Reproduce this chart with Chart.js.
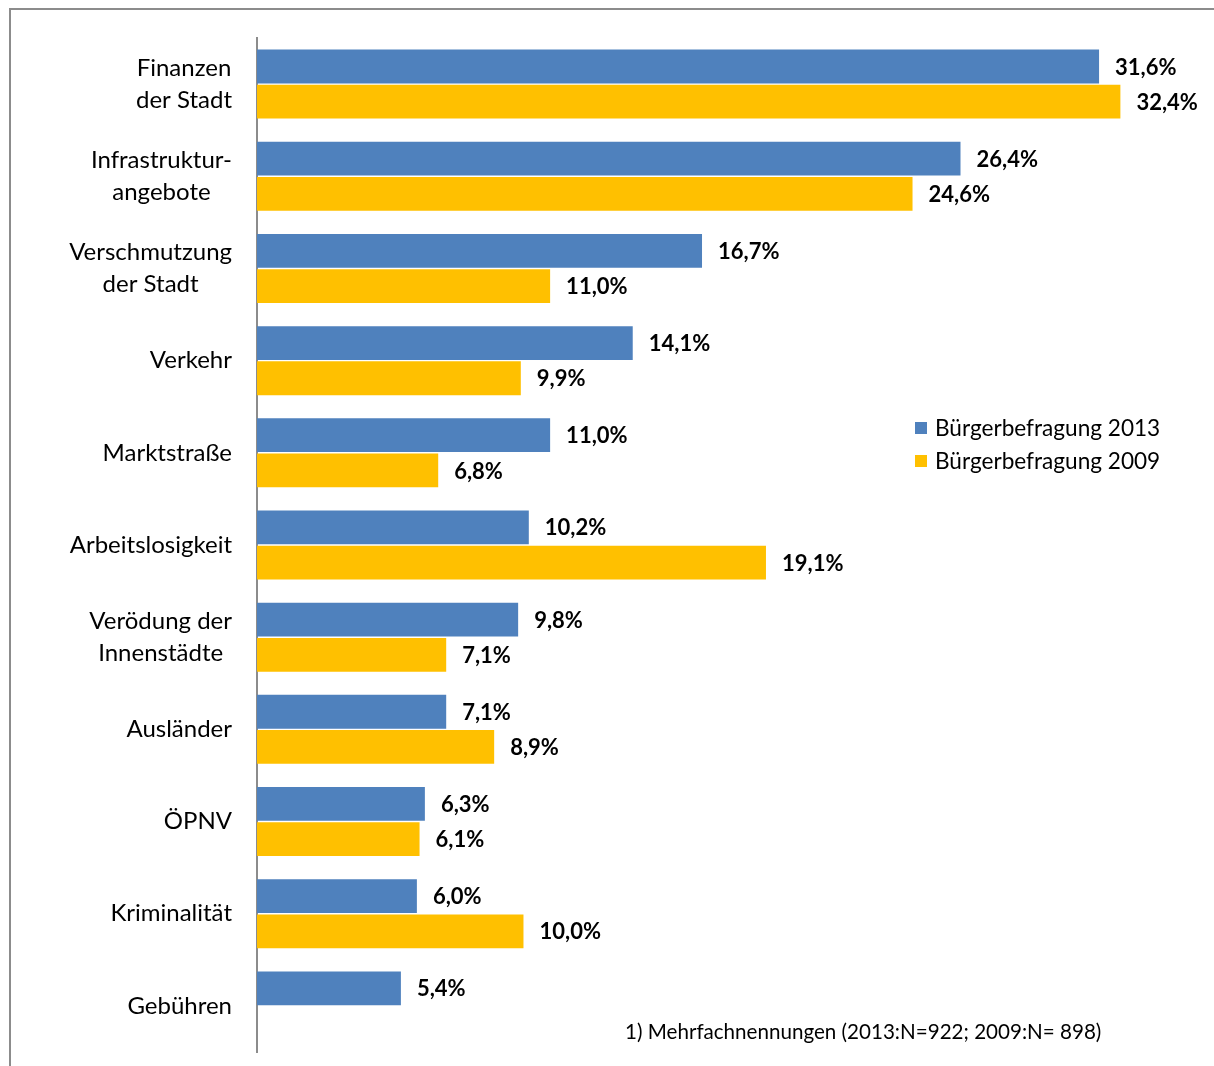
<!DOCTYPE html>
<html>
<head>
<meta charset="utf-8">
<script src="https://cdn.jsdelivr.net/npm/chart.js@4"></script>
<style>
  html, body { margin: 0; padding: 0; background: #fff; }
  body { width: 1214px; height: 1066px; position: relative; overflow: hidden; font-family: Lato, "Open Sans", sans-serif; }
  #frame { position: absolute; left: 9px; top: 8px; width: 1300px; height: 1200px; border-top: 2px solid #8c8c8c; border-left: 2px solid #8c8c8c; }
  #wrap { position: absolute; left: 0; top: 0; width: 1214px; height: 1066px; }
  #legend { position: absolute; left: 915px; top: 411px; font-size: 22.6px; color: #000; line-height: 33px; }
  #legend .item { display: flex; align-items: center; white-space: nowrap; }
  #legend .box { width: 12px; height: 12px; margin-right: 8px; }
  #note { position: absolute; left: 625px; top: 1019px; font-size: 20.6px; color: #000; white-space: nowrap; }
</style>
</head>
<body>
<div id="frame"></div>
<div id="wrap"><canvas id="chart"></canvas></div>
<div id="legend"></div>
<div id="note">1) Mehrfachnennungen (2013:N=922; 2009:N= 898)</div>
<script>
// Data
const categories = [
    ['Finanzen', 'der Stadt'],
    ['Infrastruktur-', 'angebote'],
    ['Verschmutzung', 'der Stadt'],
    ['Verkehr'],
    ['Marktstraße'],
    ['Arbeitslosigkeit'],
    ['Verödung der', 'Innenstädte'],
    ['Ausländer'],
    ['ÖPNV'],
    ['Kriminalität'],
    ['Gebühren']
];
const values2013 = [31.6, 26.4, 16.7, 14.1, 11.0, 10.2, 9.8, 7.1, 6.3, 6.0, 5.4];
const values2009 = [32.4, 24.6, 11.0, 9.9, 6.8, 19.1, 7.1, 8.9, 6.1, 10.0, null];
const seriesNames = ['Bürgerbefragung 2013', 'Bürgerbefragung 2009'];
const seriesColors = ['#4F81BD', '#FFC000'];

const FONT = 'Lato, "Open Sans", sans-serif';

// Legend (HTML)
const legendEl = document.getElementById('legend');
seriesNames.forEach((name, i) => {
    const item = document.createElement('div');
    item.className = 'item';
    const box = document.createElement('span');
    box.className = 'box';
    box.style.background = seriesColors[i];
    const txt = document.createElement('span');
    txt.textContent = name;
    item.appendChild(box);
    item.appendChild(txt);
    legendEl.appendChild(item);
});

// Category labels: centered lines, right edge at fixed x
const categoryLabels = {
    id: 'categoryLabels',
    afterDraw(chart) {
        const ctx = chart.ctx;
        const yScale = chart.scales.y;
        const rightEdge = 232;
        const lineH = 32;
        ctx.save();
        ctx.font = '24px ' + FONT;
        ctx.fillStyle = '#000';
        ctx.textAlign = 'center';
        ctx.textBaseline = 'middle';
        categories.forEach((lines, i) => {
            const cy = yScale.getPixelForValue(i);
            const maxW = Math.max(...lines.map(l => ctx.measureText(l).width));
            const cx = rightEdge - maxW / 2;
            const y0 = cy - (lines.length - 1) * lineH / 2;
            lines.forEach((l, k) => ctx.fillText(l, cx, y0 + k * lineH));
        });
        ctx.restore();
    }
};

// Value labels at bar ends
const valueLabels = {
    id: 'valueLabels',
    afterDatasetsDraw(chart) {
        const ctx = chart.ctx;
        ctx.save();
        ctx.font = 'bold 22px ' + FONT;
        ctx.fillStyle = '#000';
        ctx.textAlign = 'left';
        ctx.textBaseline = 'middle';
        chart.data.datasets.forEach((ds, di) => {
            const meta = chart.getDatasetMeta(di);
            meta.data.forEach((bar, i) => {
                const v = ds.data[i];
                if (v === null || v === undefined) return;
                const txt = v.toFixed(1).replace('.', ',') + '%';
                ctx.fillText(txt, bar.x + 16, bar.y + 1);
            });
        });
        ctx.restore();
    }
};

const canvas = document.getElementById('chart');
new Chart(canvas, {
    type: 'bar',
    data: {
        labels: categories.map(c => c.join(' ')),
        datasets: [
            {
                label: seriesNames[0],
                data: values2013,
                backgroundColor: seriesColors[0],
                borderWidth: 0,
                categoryPercentage: 0.764,
                barPercentage: 0.96
            },
            {
                label: seriesNames[1],
                data: values2009,
                backgroundColor: seriesColors[1],
                borderWidth: 0,
                categoryPercentage: 0.764,
                barPercentage: 0.96
            }
        ]
    },
    options: {
        indexAxis: 'y',
        responsive: true,
        maintainAspectRatio: false,
        animation: false,
        layout: { padding: { left: 0, right: 23, top: 38, bottom: 14 } },
        plugins: {
            legend: { display: false },
            tooltip: { enabled: false },
            title: { display: false }
        },
        scales: {
            x: {
                display: false,
                min: 0,
                max: 35.05
            },
            y: {
                grid: { display: false, drawTicks: false },
                border: { display: true, color: '#8c8c8c', width: 2 },
                ticks: { display: false },
                afterFit(scale) { scale.width = 257; }
            }
        }
    },
    plugins: [categoryLabels, valueLabels]
});
</script>
</body>
</html>
